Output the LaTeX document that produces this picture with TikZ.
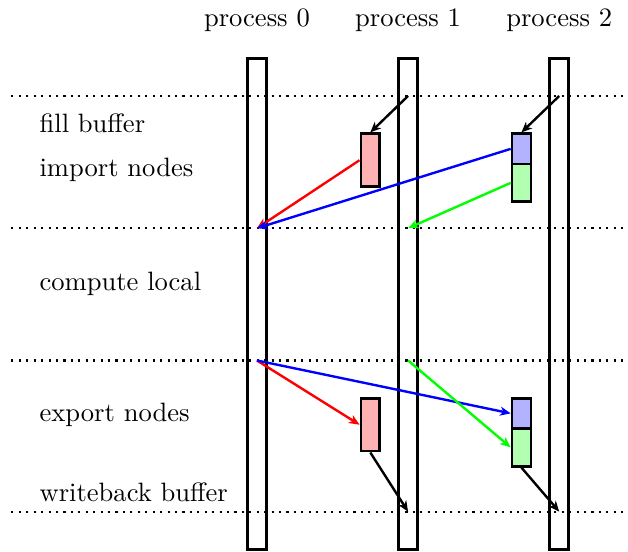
\documentclass[tikz,border=0pt]{standalone}
\usepackage{tikz}
\usetikzlibrary{arrows.meta, calc}
\tikzstyle{proc} = [rectangle, draw=black, line width=1pt, minimum width=0.25cm,
minimum height=6.5cm, inner sep=0pt]
\tikzstyle{buf} = [rectangle, draw=black, line width=1pt, minimum width=0.25cm, inner sep=0pt]
\tikzstyle{arrow} = [line width=0.9pt, -{Stealth[length=4pt, width=3.4pt, inset=1.2pt]}]
\tikzstyle{sep} = [thick, dotted]
\tikzstyle{phase} = [anchor=west]

\begin{document}
\begin{tikzpicture}
        \useasboundingbox (-3.4,-0.53) rectangle (4.91,6.77);
        \foreach \y in {0, 2, 3.75, 5.5}
                \draw [sep] (-3.25,\y) -- (4.91,\y);

        \node (P0) [proc] at (0,2.75) {};
        \node (P1) [proc] at (2,2.75) {};
        \node (P2) [proc] at (4,2.75) {};
        \node (N0) at (0,6.5) {process 0};
        \node (N1) at (2,6.5) {process 1};
        \node (N2) at (4,6.5) {process 2};

        \node (A) [phase] at (-3,5.14) {fill buffer};
        \node (B) [phase] at (-3,4.52) {import nodes};
        \node (C) [phase] at (-3,3.02) {compute local};
        \node (D) [phase] at (-3,1.28) {export nodes};
        \node (E) [phase] at (-3,0.25) {writeback buffer};

        % import buffers
        \node (RI) [buf, fill=red!30, minimum height=0.7cm] at (1.5,4.65) {};
        \node (GI) [buf, fill=green!30, minimum height=0.5cm] at (3.5,4.35) {};
        \node (BI) [buf, fill=blue!30, minimum height=0.4cm] at (3.5,4.8) {};
        % export buffers
        \node (RE) [buf, fill=red!30, minimum height=0.7cm] at (1.5,1.15) {};
        \node (GE) [buf, fill=green!30, minimum height=0.5cm] at (3.5,0.85) {};
        \node (BE) [buf, fill=blue!30, minimum height=0.4cm] at (3.5,1.3) {};

        \coordinate (F1) at (2,5.5);
        \coordinate (F2) at (4,5.5);
        \coordinate (I0) at (0,3.75);
        \coordinate (I1) at (2,3.75);
        \coordinate (X0) at (0,2);
        \coordinate (X1) at (2,2);
        \coordinate (W1) at (2,0);
        \coordinate (W2) at (4,0);

        \draw [arrow] (F1) -- (RI.north);
        \draw [arrow] (F2) -- (BI.north);
        \draw [arrow, red] (RI.west) -- (I0);
        \draw [arrow, blue] (BI.west) -- (I0);
        \draw [arrow, green] (GI.west) -- (I1);
        \draw [arrow, red] (X0) -- (RE.west);
        \draw [arrow, blue] (X0) -- (BE.west);
        \draw [arrow, green] (X1) -- (GE.west);
        \draw [arrow] (RE.south) -- (W1);
        \draw [arrow] (GE.south) -- (W2);

\end{tikzpicture}
\end{document}
